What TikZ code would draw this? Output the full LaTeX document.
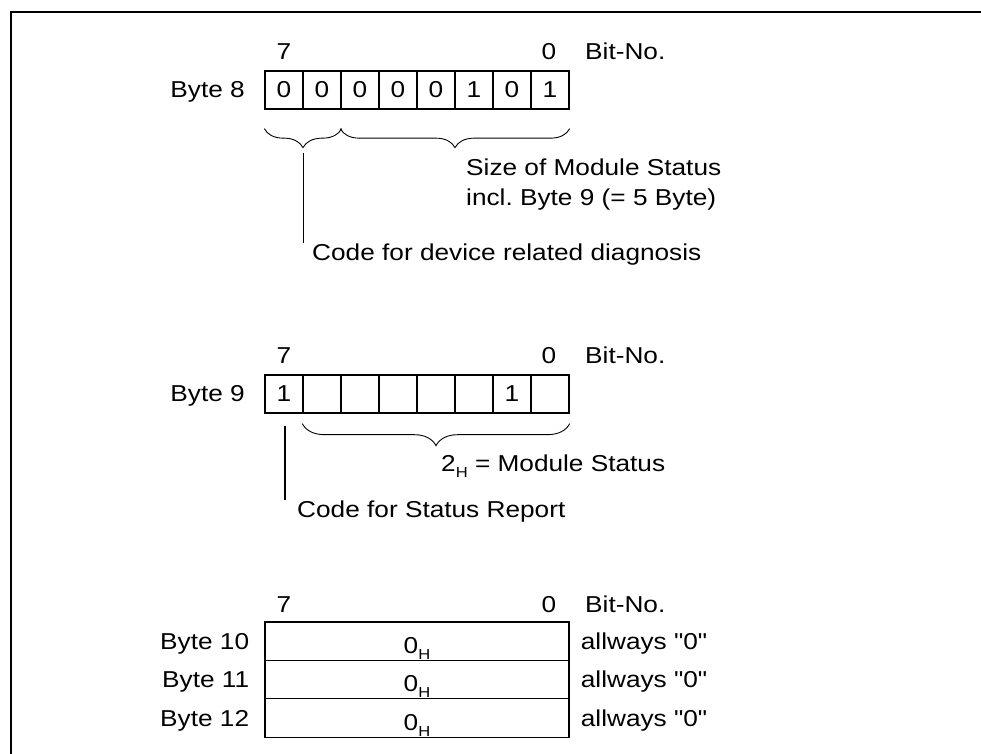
\documentclass[tikz,border=0pt]{standalone}
\usepackage{fontspec}
\setmainfont{Liberation Sans}[FakeStretch=1.14, Ligatures=TeXOff]
\usetikzlibrary{positioning,decorations.pathreplacing,calc}
\newcommand{\subH}{\raisebox{-6pt}{\fontsize{14.5}{14.5}\selectfont H}}
\frenchspacing

\begin{document}
\begin{tikzpicture}[x=1pt, y=-1pt,
  font=\fontsize{23}{30}\selectfont,
  every node/.style={inner sep=0pt},
  bit/.style={draw, line width=1.3pt, minimum width=38pt, minimum height=38pt},
  bytebox/.style={draw, line width=1.3pt, minimum width=304pt, minimum height=38.4pt},
  brc/.style={decorate, decoration={brace, mirror, amplitude=#1}, line width=0.9pt},
  brc/.default=20pt,
  lead/.style={line width=1.2pt}]
\useasboundingbox (0,0) rectangle (981,753);
% frame
\draw[line width=2.3pt] (11,770) -- (11,12) -- (1000,12);
% bit numbers
\foreach \y/\k in {59/a,363/b,612/c} {
  \node[anchor=base]      (hi\k) at (284,\y) {7};
  \node[anchor=base]      (lo\k) at (549,\y) {0};
  \node[anchor=base west] (bn\k) at (585,\y) {Bit-No.};
}
% byte 8
\foreach \v [count=\i from 0] in {0,0,0,0,0,1,0,1}
  \node[bit] (b8c\i) at ({284+38*\i},90) {\v};
\node[anchor=base east] (lb8) at (245,97) {Byte 8};
\draw[brc=19pt] ([yshift=-19pt]b8c0.south west) -- ([yshift=-19pt]b8c1.south east);
\draw[brc=19pt] ([yshift=-19pt]b8c2.south west) -- ([yshift=-19pt]b8c7.south east);
\node[anchor=base west, align=left] (size) at (466,205) {Size of Module Status\\incl. Byte 9 (= 5 Byte)};
\node[anchor=base west] (diag) at (312,260) {Code for device related diagnosis};
\coordinate (t8) at ($(b8c0.south east)+(0,43)$);
\draw[lead] (t8) -- (t8 |- diag.north);
% byte 9
\foreach \v [count=\i from 0] in {1,{},{},{},{},{},1,{}}
  \node[bit] (b9c\i) at ({284+38*\i},394) {\v};
\node[anchor=base east] (lb9) at (245,401) {Byte 9};
\draw[brc=22pt] ([yshift=-10pt]b9c1.south west) -- ([yshift=-10pt]b9c7.south east);
\node[anchor=base west] (mod) at (441,471) {2\subH{} = Module Status};
\node[anchor=base west] (rep) at (297,517) {Code for Status Report};
\coordinate (t9) at ($(b9c0.south)+(1,12)$);
\draw[lead] (t9) -- (t9 |- rep.north);
% bytes 10 to 12
\foreach \n [count=\i from 0] in {10,11,12} {
  \node[bytebox] (r\n) at (417,{641.2+38.4*\i}) {};
  \node[anchor=base] (h\n) at ([yshift=-12pt]r\n.center) {0\subH};
  \node[anchor=base east] (lb\n) at ([xshift=-15pt,yshift=-8pt]r\n.west) {Byte \n};
  \node[anchor=base west] (al\n) at ([xshift=11pt,yshift=-8pt]r\n.east) {allways "0"};
}
\end{tikzpicture}
\end{document}
